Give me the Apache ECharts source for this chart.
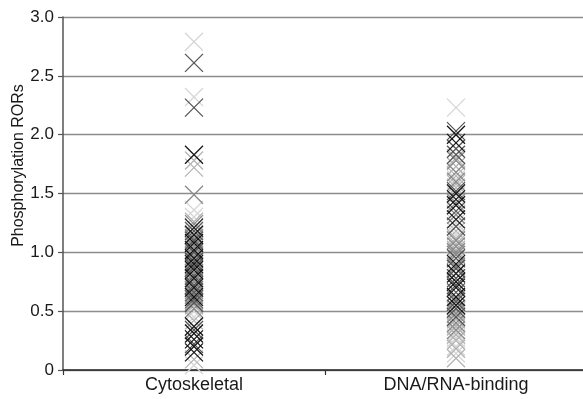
<!DOCTYPE html>
<html>
<head>
<meta charset="utf-8">
<script src="https://cdn.jsdelivr.net/npm/echarts@6/dist/echarts.min.js"></script>
<style>html,body{margin:0;padding:0;background:#fff;}#c{width:583px;height:399px;}</style>
</head>
<body>
<div id="c"></div>
<script>
var categories = ['Cytoskeletal', 'DNA/RNA-binding'];
var yTicks = [0, 0.5, 1.0, 1.5, 2.0, 2.5, 3.0];

var cytoVLight = [2.79, 2.32, 1.36, 1.30, 1.19, 1.04, 0.83, 0.74, 0.50, 0.45, 0.04];
var cytoLight  = [1.78, 1.72, 1.26, 1.14, 1.06, 0.99, 0.93, 0.76, 0.70, 0.55, 0.42, 0.09];
var cytoMid    = [1.49, 1.24, 1.12, 1.05, 0.97, 0.88, 0.82, 0.75, 0.68, 0.64, 0.58, 0.52];
var cytoDark   = [2.61, 2.23, 1.18, 1.10, 1.00, 0.92, 0.87, 0.80, 0.72, 0.66, 0.60, 0.57, 0.34, 0.22];
var cytoBlack  = [1.83, 1.21, 1.15, 1.08, 1.02, 0.95, 0.90, 0.85, 0.78, 0.70, 0.62, 0.37, 0.31, 0.26, 0.20, 0.15];

var dnaVLight = [2.23, 1.62, 1.48, 1.25, 1.15, 0.92, 0.45, 0.38, 0.32, 0.27, 0.20, 0.14];
var dnaLight  = [1.80, 1.73, 1.65, 1.58, 1.55, 1.18, 1.12, 1.07, 1.02, 0.50, 0.43, 0.37, 0.30, 0.25, 0.18, 0.10];
var dnaMid    = [1.78, 1.68, 1.60, 1.42, 1.32, 1.10, 1.05, 1.00, 0.98, 0.88, 0.60, 0.48, 0.40, 0.34];
var dnaDark   = [2.03, 1.88, 1.83, 1.52, 1.35, 1.22, 0.95, 0.86, 0.78, 0.72, 0.66, 0.58, 0.52, 0.45];
var dnaBlack  = [2.00, 1.93, 1.50, 1.45, 1.40, 1.28, 0.90, 0.82, 0.75, 0.70, 0.62, 0.55];

var shadeColors = ['#d6d6d6', '#b4b4b4', '#8a8a8a', '#555555', '#151515'];
var cytoGroups = [cytoVLight, cytoLight, cytoMid, cytoDark, cytoBlack];
var dnaGroups = [dnaVLight, dnaLight, dnaMid, dnaDark, dnaBlack];

var series = [];
shadeColors.forEach(function (col, i) {
  var data = [];
  cytoGroups[i].forEach(function (v) { data.push([categories[0], v]); });
  dnaGroups[i].forEach(function (v) { data.push([categories[1], v]); });
  series.push({
    type: 'scatter',
    data: data,
    symbol: 'path://M0,0L10,10M10,0L0,10',
    symbolSize: 18,
    itemStyle: { color: 'none', borderColor: col, borderWidth: 1.3, opacity: 1 },
    emphasis: { disabled: true },
    silent: true
  });
});

var chart = echarts.init(document.getElementById('c'), null, { renderer: 'canvas' });
chart.setOption({
  animation: false,
  backgroundColor: '#ffffff',
  grid: { left: 63, top: 17, width: 524, bottom: 29, containLabel: false, outerBoundsMode: 'none' },
  xAxis: {
    type: 'category',
    data: categories,
    boundaryGap: true,
    axisLine: { lineStyle: { color: '#222', width: 1.5 } },
    axisTick: { show: true, length: 5, lineStyle: { color: '#333', width: 1.2 } },
    axisLabel: { color: '#1a1a1a', fontSize: 18, fontFamily: 'Liberation Sans, Arial, sans-serif', margin: 6 },
    splitLine: { show: false }
  },
  yAxis: {
    type: 'value',
    min: 0, max: 3, interval: 0.5,
    name: 'Phosphorylation RORs',
    nameLocation: 'middle',
    nameGap: 36,
    nameMoveOverlap: false,
    nameTextStyle: { color: '#1a1a1a', fontSize: 16, fontFamily: 'Liberation Sans, Arial, sans-serif', padding: [0, 0, 0, 56] },
    axisLine: { show: true, lineStyle: { color: '#555', width: 1.5 } },
    axisTick: { show: true, length: 5, lineStyle: { color: '#555', width: 1.2 } },
    axisLabel: {
      color: '#1a1a1a', fontSize: 17, fontFamily: 'Liberation Sans, Arial, sans-serif', margin: 9,
      formatter: function (v) { return yTicks.indexOf(v) >= 0 ? (v === 0 ? '0' : v.toFixed(1)) : ''; }
    },
    splitLine: { show: true, lineStyle: { color: '#8c8c8c', width: 1.3 } }
  },
  series: series
});
</script>
</body>
</html>
